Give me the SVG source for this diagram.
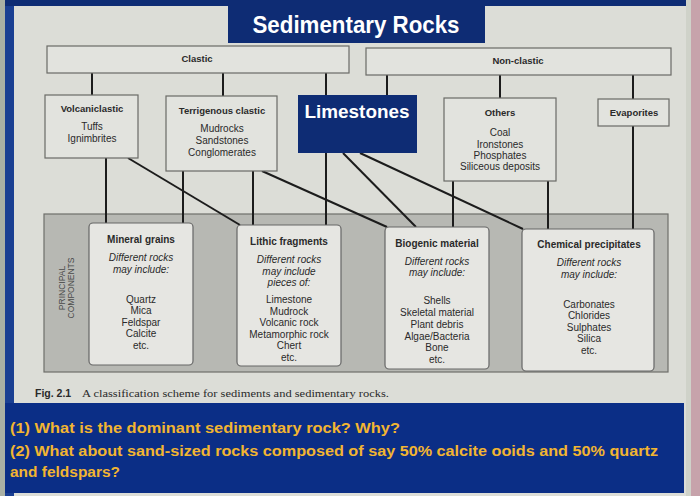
<svg xmlns="http://www.w3.org/2000/svg" width="700" height="496" viewBox="0 0 700 496">
<style>
.bg{fill:#dcddd7}
.navy{fill:#0e2c74}
.box{fill:#e2e3de;stroke:#6a6a66;stroke-width:1.2}
.rbox{fill:#e6e6e2;stroke:#666;stroke-width:1.2}
.panel{fill:#b7b8b3;stroke:#6e6e6a;stroke-width:1.2}
.conn line{stroke:#1c1c1c;stroke-width:2}
text{font-family:"Liberation Sans",Arial,sans-serif;fill:#2a2a2a;text-anchor:middle}
.t{font-weight:bold;font-size:9.5px}
.lt{font-weight:bold;font-size:10px}
.i{font-size:10px}
.it{font-size:10px;font-style:italic}
.pc{font-size:8.5px;fill:#4a4a4a}
.q{font-family:"Liberation Sans",Arial,sans-serif;font-weight:bold;font-size:14.5px;fill:#f2b531;text-anchor:start}
</style>
<rect class="bg" x="0" y="0" width="700" height="496"/>
<rect x="0" y="0" width="5" height="496" fill="#aab0a4"/>
<rect x="5" y="0" width="9" height="496" fill="#1a3f92"/>
<rect x="5" y="0" width="683" height="6" fill="#0e2c74"/>
<rect x="690" y="0" width="10" height="496" fill="#c7a3ab"/>
<rect x="686" y="0" width="5" height="496" fill="#cfd2c9"/>

<g id="title">
<rect class="navy" x="228" y="0" width="257" height="43"/>
<text x="356" y="33" style="font-size:24px;font-weight:bold;fill:#ffffff" textLength="207" lengthAdjust="spacingAndGlyphs">Sedimentary Rocks</text>
</g>

<g id="panel">
<rect class="panel" x="44" y="214" width="624" height="158"/>
<g transform="translate(65,288) rotate(-90)">
<text class="pc" x="0" y="0">PRINCIPAL</text>
<text class="pc" x="0" y="9">COMPONENTS</text>
</g>
</g>

<g id="connectors" class="conn">
<line x1="92" y1="73" x2="92" y2="95"/>
<line x1="223" y1="73" x2="223" y2="96"/>
<line x1="326" y1="73" x2="326" y2="95"/>
<line x1="387" y1="75" x2="387" y2="95"/>
<line x1="500" y1="75" x2="500" y2="98"/>
<line x1="633" y1="75" x2="633" y2="99"/>
<line x1="106" y1="158" x2="106" y2="223"/>
<line x1="128" y1="158" x2="240" y2="225"/>
<line x1="183" y1="171" x2="183" y2="223"/>
<line x1="253" y1="171" x2="253" y2="225"/>
<line x1="262" y1="171" x2="387" y2="227"/>
<line x1="326" y1="153" x2="326" y2="225"/>
<line x1="343" y1="153" x2="416" y2="227"/>
<line x1="360" y1="153" x2="523" y2="229"/>
<line x1="453" y1="181" x2="453" y2="227"/>
<line x1="548" y1="181" x2="548" y2="229"/>
<line x1="633" y1="126" x2="633" y2="229"/>
</g>

<g id="clastic">
<rect class="box" x="47" y="46" width="302" height="27"/>
<text class="t" x="197" y="62">Clastic</text>
</g>
<g id="nonclastic">
<rect class="box" x="366" y="48" width="305" height="27"/>
<text class="t" x="518" y="64">Non-clastic</text>
</g>

<g id="volcaniclastic">
<rect class="box" x="45" y="95" width="93" height="63"/>
<text class="t" x="92" y="112">Volcaniclastic</text>
<text class="i" x="92" y="130">Tuffs</text>
<text class="i" x="92" y="142">Ignimbrites</text>
</g>
<g id="terrigenous">
<rect class="box" x="166" y="96" width="111" height="75"/>
<text class="t" x="222" y="114">Terrigenous clastic</text>
<text class="i" x="222" y="132">Mudrocks</text>
<text class="i" x="222" y="144">Sandstones</text>
<text class="i" x="222" y="156">Conglomerates</text>
</g>
<g id="limestones">
<rect class="navy" x="298" y="95" width="119" height="58"/>
<text x="357" y="118" style="font-size:19px;font-weight:bold;fill:#ffffff" textLength="105" lengthAdjust="spacingAndGlyphs">Limestones</text>
</g>
<g id="others">
<rect class="box" x="444" y="98" width="112" height="83"/>
<text class="t" x="500" y="116">Others</text>
<text class="i" x="500" y="135.5">Coal</text>
<text class="i" x="500" y="147.5">Ironstones</text>
<text class="i" x="500" y="159">Phosphates</text>
<text class="i" x="500" y="170">Siliceous deposits</text>
</g>
<g id="evaporites">
<rect class="box" x="598" y="99" width="71" height="27"/>
<text class="t" x="634" y="116">Evaporites</text>
</g>

<g id="mineral">
<rect class="rbox" x="89" y="223" width="104" height="142" rx="4"/>
<text class="lt" x="141" y="243">Mineral grains</text>
<text class="it" x="141" y="260.5">Different rocks</text>
<text class="it" x="141" y="272.5">may include:</text>
<text class="i" x="141" y="302.5">Quartz</text>
<text class="i" x="141" y="313.5">Mica</text>
<text class="i" x="141" y="325.5">Feldspar</text>
<text class="i" x="141" y="336.5">Calcite</text>
<text class="i" x="141" y="348.5">etc.</text>
</g>
<g id="lithic">
<rect class="rbox" x="237" y="225" width="104" height="141" rx="4"/>
<text class="lt" x="289" y="245">Lithic fragments</text>
<text class="it" x="289" y="262.5">Different rocks</text>
<text class="it" x="289" y="274.5">may include</text>
<text class="it" x="289" y="285.5">pieces of:</text>
<text class="i" x="289" y="302.5">Limestone</text>
<text class="i" x="289" y="314.5">Mudrock</text>
<text class="i" x="289" y="326">Volcanic rock</text>
<text class="i" x="289" y="337.5">Metamorphic rock</text>
<text class="i" x="289" y="349">Chert</text>
<text class="i" x="289" y="360.5">etc.</text>
</g>
<g id="biogenic">
<rect class="rbox" x="385" y="227" width="104" height="142" rx="4"/>
<text class="lt" x="437" y="246.5">Biogenic material</text>
<text class="it" x="437" y="264.5">Different rocks</text>
<text class="it" x="437" y="276">may include:</text>
<text class="i" x="437" y="303.5">Shells</text>
<text class="i" x="437" y="316">Skeletal material</text>
<text class="i" x="437" y="328">Plant debris</text>
<text class="i" x="437" y="339.5">Algae/Bacteria</text>
<text class="i" x="437" y="351">Bone</text>
<text class="i" x="437" y="362.5">etc.</text>
</g>
<g id="chemical">
<rect class="rbox" x="522" y="229" width="132" height="142" rx="4"/>
<text class="lt" x="589" y="247.5">Chemical precipitates</text>
<text class="it" x="589" y="266">Different rocks</text>
<text class="it" x="589" y="277.5">may include:</text>
<text class="i" x="589" y="307.5">Carbonates</text>
<text class="i" x="589" y="319">Chlorides</text>
<text class="i" x="589" y="330.5">Sulphates</text>
<text class="i" x="589" y="342">Silica</text>
<text class="i" x="589" y="354">etc.</text>
</g>

<g id="caption">
<text x="35" y="397" style="font-size:10.5px;font-weight:bold;text-anchor:start">Fig. 2.1</text>
<text x="82" y="397" style="font-family:'Liberation Serif','Times New Roman',serif;font-size:11px;text-anchor:start" textLength="307" lengthAdjust="spacingAndGlyphs">A classification scheme for sediments and sedimentary rocks.</text>
</g>

<g id="questions">
<rect x="5" y="403" width="679" height="90" fill="#0b2e86"/>
<text class="q" x="10" y="433" textLength="390" lengthAdjust="spacingAndGlyphs">(1) What is the dominant sedimentary rock? Why?</text>
<text class="q" x="10" y="456" textLength="648" lengthAdjust="spacingAndGlyphs">(2) What about sand-sized rocks composed of say 50% calcite ooids and 50% quartz</text>
<text class="q" x="10" y="477" textLength="110" lengthAdjust="spacingAndGlyphs">and feldspars?</text>
</g>
</svg>
